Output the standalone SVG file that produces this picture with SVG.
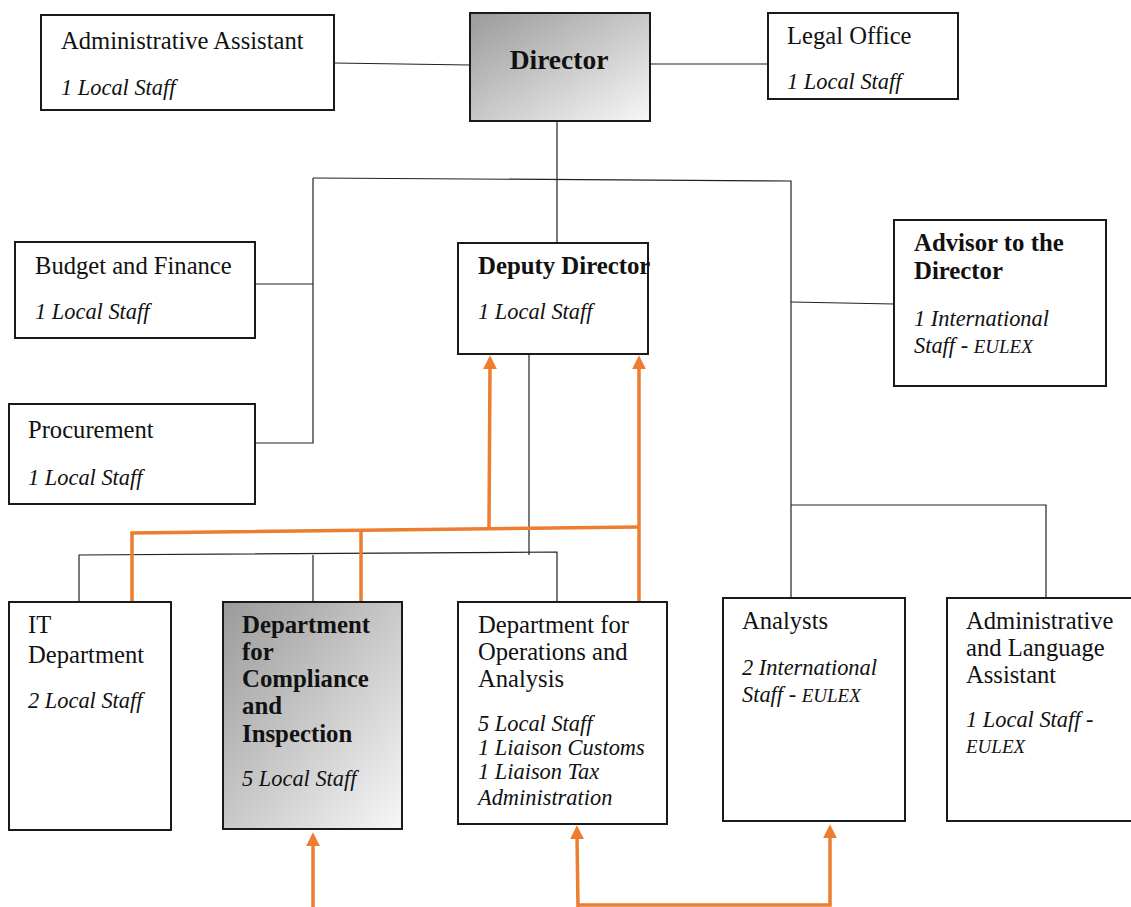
<svg xmlns="http://www.w3.org/2000/svg" width="1131" height="907" viewBox="0 0 1131 907">
<defs>
<linearGradient id="g" x1="0" y1="0" x2="1" y2="1">
<stop offset="0" stop-color="#9a9a9a"/>
<stop offset="1" stop-color="#f7f7f7"/>
</linearGradient>
<marker id="ah" viewBox="0 0 10 10" refX="3" refY="5" markerWidth="4" markerHeight="4" orient="auto" markerUnits="strokeWidth">
<path d="M0,0 L10,5 L0,10 Z" fill="#ED7D31"/>
</marker>
<style>
.box{fill:#fff;stroke:#1a1a1a;stroke-width:2}
.grad{fill:url(#g);stroke:#1a1a1a;stroke-width:2}
.t{font-family:"Liberation Serif",serif;font-size:24.6px;fill:#111}
.b{font-family:"Liberation Serif",serif;font-size:24.8px;font-weight:bold;fill:#111}
.i{font-family:"Liberation Serif",serif;font-size:22.4px;font-style:italic;fill:#111}
.s{font-size:19px}
.ln{stroke:#222;stroke-width:1.2;fill:none}
.or{stroke:#ED7D31;stroke-width:3.5;fill:none}
</style>
</defs>
<g id="connectors">
<path class="ln" d="M334,63 L470,65"/>
<path class="ln" d="M650,64 L768,64"/>
<path class="ln" d="M557,121 L557,243"/>
<path class="ln" d="M313,178 L791,181 L791,598"/>
<path class="ln" d="M313,178 L313,443 L255,443"/>
<path class="ln" d="M255,284 L313,284"/>
<path class="ln" d="M791,302 L894,304"/>
<path class="ln" d="M791,505 L1046,505 L1046,598"/>
<path class="ln" d="M529,354 L529,555"/>
<path class="ln" d="M79,602 L79,555 L557,552 L557,602"/>
<path class="ln" d="M313,555 L313,602"/>
<path class="or" d="M132,602 L132,533 L639,527"/>
<path class="or" d="M361,532 L361,602"/>
<path class="or" d="M489,528 L490,365" marker-end="url(#ah)"/>
<path class="or" d="M639,602 L639,365" marker-end="url(#ah)"/>
<path class="or" d="M313,907 L313,842" marker-end="url(#ah)"/>
<path class="or" d="M578,907 L577,835" marker-end="url(#ah)"/>
<path class="or" d="M578,905 L830,905 L830,834" marker-end="url(#ah)"/>
</g>
<g id="director">
<rect class="grad" x="470" y="13" width="180" height="108"/>
<text class="b" x="559" y="69" text-anchor="middle" style="font-size:27.5px">Director</text>
</g>
<g id="admin-assistant">
<rect class="box" x="41" y="15" width="293" height="95"/>
<text class="t" x="61" y="49">Administrative Assistant</text>
<text class="i" x="61" y="95">1 Local Staff</text>
</g>
<g id="legal-office">
<rect class="box" x="768" y="13" width="190" height="86"/>
<text class="t" x="787" y="44">Legal Office</text>
<text class="i" x="787" y="89">1 Local Staff</text>
</g>
<g id="budget-finance">
<rect class="box" x="15" y="242" width="240" height="96"/>
<text class="t" x="35" y="274">Budget and Finance</text>
<text class="i" x="35" y="319">1 Local Staff</text>
</g>
<g id="procurement">
<rect class="box" x="9" y="404" width="246" height="100"/>
<text class="t" x="28" y="438">Procurement</text>
<text class="i" x="28" y="485">1 Local Staff</text>
</g>
<g id="deputy-director">
<rect class="box" x="458" y="243" width="190" height="111"/>
<text class="b" x="478" y="274">Deputy Director</text>
<text class="i" x="478" y="319">1 Local Staff</text>
</g>
<g id="advisor">
<rect class="box" x="894" y="220" width="212" height="166"/>
<text class="b" x="914" y="251">Advisor to the</text>
<text class="b" x="914" y="279">Director</text>
<text class="i" x="914" y="326">1 International</text>
<text class="i" x="914" y="353">Staff - <tspan class="s">EULEX</tspan></text>
</g>
<g id="it-department">
<rect class="box" x="9" y="602" width="162" height="228"/>
<text class="t" x="28" y="633">IT</text>
<text class="t" x="28" y="663">Department</text>
<text class="i" x="28" y="708">2 Local Staff</text>
</g>
<g id="compliance">
<rect class="grad" x="223" y="602" width="179" height="227"/>
<text class="b" x="242" y="633">Department</text>
<text class="b" x="242" y="660">for</text>
<text class="b" x="242" y="687">Compliance</text>
<text class="b" x="242" y="714">and</text>
<text class="b" x="242" y="742">Inspection</text>
<text class="i" x="242" y="786">5 Local Staff</text>
</g>
<g id="operations">
<rect class="box" x="458" y="602" width="209" height="222"/>
<text class="t" x="478" y="633">Department for</text>
<text class="t" x="478" y="660">Operations and</text>
<text class="t" x="478" y="687">Analysis</text>
<text class="i" x="478" y="731">5 Local Staff</text>
<text class="i" x="478" y="755">1 Liaison Customs</text>
<text class="i" x="478" y="779">1 Liaison Tax</text>
<text class="i" x="478" y="805">Administration</text>
</g>
<g id="analysts">
<rect class="box" x="723" y="598" width="182" height="223"/>
<text class="t" x="742" y="629">Analysts</text>
<text class="i" x="742" y="675">2 International</text>
<text class="i" x="742" y="702">Staff - <tspan class="s">EULEX</tspan></text>
</g>
<g id="admin-language">
<rect class="box" x="947" y="598" width="190" height="223"/>
<text class="t" x="966" y="629">Administrative</text>
<text class="t" x="966" y="656">and Language</text>
<text class="t" x="966" y="683">Assistant</text>
<text class="i" x="966" y="727">1 Local Staff -</text>
<text class="i s" x="966" y="753">EULEX</text>
</g>
</svg>
